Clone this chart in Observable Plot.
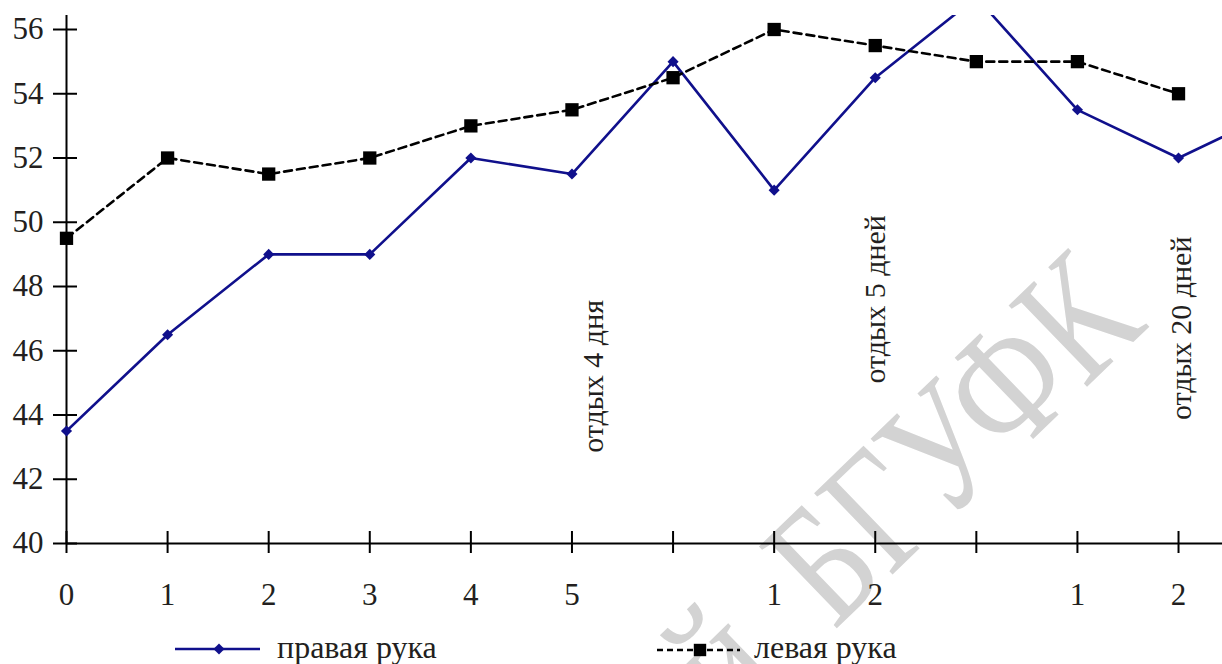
<!DOCTYPE html>
<html>
<head>
<meta charset="utf-8">
<script src="https://cdn.jsdelivr.net/npm/d3@7"></script>
<script src="https://cdn.jsdelivr.net/npm/@observablehq/plot@0.6"></script>
<style>
  html, body { margin: 0; padding: 0; background: #fff; }
  #wrap { position: relative; width: 1222px; height: 664px; overflow: hidden;
          font-family: 'Liberation Serif', 'Times New Roman', serif; color: #231f20; }
  #wm, #chart, #legend { position: absolute; left: 0; }
  #wm { top: 0; }
  #chart { top: 0; }
  #legend { top: 620px; }
  text { font-family: 'Liberation Serif', 'Times New Roman', serif; }
</style>
</head>
<body>
<div id="wrap">
  <svg id="wm" width="1222" height="664">
    <text transform="translate(1149 327) rotate(-44) scale(0.9 1.15)" text-anchor="end"
          font-family="'Liberation Serif', serif" font-size="150" fill="#d3d3d3">Репозиторий&#160;&#160;БГУФК</text>
  </svg>
  <div id="chart"></div>
  <svg id="legend" width="1222" height="44"></svg>
</div>
<script>
// ---- data ----
const xTickLabels = ["0", "1", "2", "3", "4", "5", "", "1", "2", "", "1", "2"];
const rightHand = [43.5, 46.5, 49, 49, 52, 51.5, 55, 51, 54.5, 57, 53.5, 52, 53.5];
const leftHand  = [49.5, 52, 51.5, 52, 53, 53.5, 54.5, 56, 55.5, 55, 55, 54];
const yTicks = [40, 42, 44, 46, 48, 50, 52, 54, 56];
const notes  = ["отдых 4 дня", "отдых 5 дней", "отдых 20 дней"];
const noteX  = [5.21, 8.0, 11.03];
const noteY  = [45.2, 47.6, 46.7];
const seriesNames = ["правая рука", "левая рука"];

const BLUE = "#10108c";
const INK = "#231f20";
const FONT = "'Liberation Serif', 'Times New Roman', serif";
const xMax = 11.435, yMax = 56.436;

const xIdx = xTickLabels.map((_, i) => i);
const rIdx = rightHand.map((_, i) => i);
const lIdx = leftHand.map((_, i) => i);

const chart = Plot.plot({
  width: 1222,
  height: 620,
  marginLeft: 66,
  marginRight: 0,
  marginTop: 15,
  marginBottom: 77,
  x: { type: "linear", domain: [0, xMax], axis: null },
  y: { domain: [40, yMax], axis: null },
  style: { background: "transparent", fontFamily: FONT, fontSize: "31px", color: INK },
  marks: [
    Plot.axisY(yTicks, { tickSize: 0, tickPadding: 23, fontSize: 31, label: null, fill: INK, fontFamily: FONT }),
    Plot.axisX(xIdx, { tickSize: 0, tickPadding: 39, fontSize: 31, label: null, fill: INK, fontFamily: FONT,
                       tickFormat: d => xTickLabels[d] }),
    Plot.ruleX([0], { stroke: "black", strokeWidth: 2 }),
    Plot.ruleY([40], { stroke: "black", strokeWidth: 2 }),
    Plot.ruleX(xIdx, { x: d => d, y1: 40, y2: 40, insetTop: -12, insetBottom: -10, stroke: "black", strokeWidth: 2 }),
    Plot.ruleY(yTicks, { y: d => d, x1: 0, x2: 0, insetLeft: -13, insetRight: -11, stroke: "black", strokeWidth: 2 }),
    Plot.line(rIdx, { x: d => d, y: d => rightHand[d], stroke: BLUE, strokeWidth: 2.6, clip: true }),
    Plot.dot(rIdx, { x: d => d, y: d => rightHand[d], symbol: "diamond2", r: 5, fill: BLUE, stroke: "none",
                     filter: d => rightHand[d] <= yMax && d <= xMax }),
    Plot.line(lIdx, { x: d => d, y: d => leftHand[d], stroke: "black", strokeWidth: 2.6,
                      strokeDasharray: "8,5", clip: true }),
    Plot.dot(lIdx, { x: d => d, y: d => leftHand[d], symbol: "square", r: 7.5, fill: "black", stroke: "none",
                     filter: d => leftHand[d] <= yMax && d <= xMax }),
    Plot.text(notes, { x: (d, i) => noteX[i], y: (d, i) => noteY[i], text: d => d, rotate: -90,
                       fontSize: 30, fill: INK, fontFamily: FONT })
  ]
});
document.getElementById("chart").appendChild(chart);

// ---- legend (below the chart SVG) ----
const lg = d3.select("#legend");
// item 1: правая рука
lg.append("line").attr("x1", 175).attr("x2", 260).attr("y1", 29).attr("y2", 29)
  .attr("stroke", BLUE).attr("stroke-width", 2.6);
lg.append("path").attr("d", d3.symbol(d3.symbolDiamond2, Math.PI * 5 * 5)())
  .attr("transform", "translate(219,29)").attr("fill", BLUE);
lg.append("text").attr("x", 277).attr("y", 38).attr("font-size", 32).attr("fill", INK)
  .attr("font-family", FONT).text(seriesNames[0]);
// item 2: левая рука
lg.append("line").attr("x1", 657).attr("x2", 740).attr("y1", 30).attr("y2", 30)
  .attr("stroke", "black").attr("stroke-width", 2.6).attr("stroke-dasharray", "6,4");
lg.append("path").attr("d", d3.symbol(d3.symbolSquare, Math.PI * 7 * 7)())
  .attr("transform", "translate(700,30)").attr("fill", "black");
lg.append("text").attr("x", 754).attr("y", 38).attr("font-size", 32).attr("fill", INK)
  .attr("font-family", FONT).text(seriesNames[1]);
</script>
</body>
</html>
